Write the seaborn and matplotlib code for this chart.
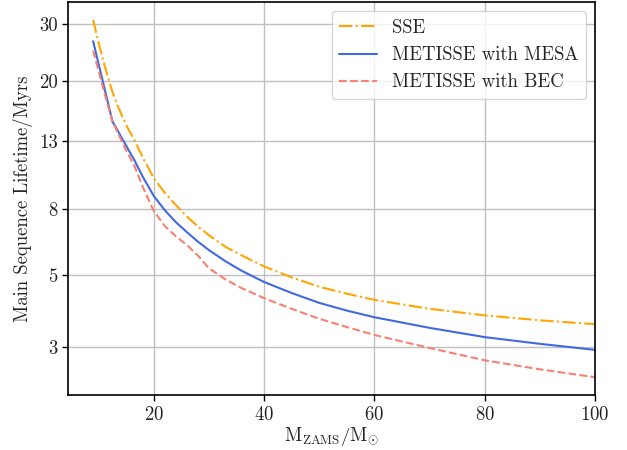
import matplotlib
matplotlib.use('Agg')
import matplotlib.pyplot as plt
import pandas as pd
import seaborn as sns
from matplotlib.ticker import FixedLocator, NullLocator, FixedFormatter

# masses (M_ZAMS / Msun)
mass = [9, 10, 11, 12.5, 13.5, 15, 16.5, 18, 20, 22, 24, 26, 28, 30, 33, 36, 40, 45, 50, 55, 60, 70, 80, 90, 100]

# main sequence lifetimes (Myrs)
sse = [31.0, 26.3, 22.6, 18.5, 16.7, 14.6, 13.1, 11.6, 10.0, 9.0, 8.25, 7.6, 7.08, 6.65, 6.12, 5.75,
       5.32, 4.92, 4.6, 4.38, 4.19, 3.93, 3.75, 3.62, 3.52]
metisse_mesa = [26.6, 22.6, 19.2, 15.0, 14.0, 12.6, 11.35, 10.1, 8.8, 7.95, 7.3, 6.8, 6.35, 5.98, 5.52, 5.15,
                4.76, 4.4, 4.1, 3.88, 3.70, 3.43, 3.21, 3.06, 2.93]
metisse_bec = [24.9, 21.5, 18.5, 15.0, 13.8, 12.2, 10.9, 9.4, 7.9, 7.1, 6.6, 6.2, 5.75, 5.25, 4.85, 4.55,
               4.24, 3.93, 3.66, 3.45, 3.26, 2.97, 2.72, 2.55, 2.41]

yticks = [3, 5, 8, 13, 20, 30]

sns.set_style('whitegrid')
plt.rcParams['font.family'] = 'serif'
plt.rcParams['font.serif'] = ['cmr10']
plt.rcParams['mathtext.fontset'] = 'cm'
plt.rcParams['axes.formatter.use_mathtext'] = True
plt.rcParams['axes.unicode_minus'] = False

tbl = pd.DataFrame({'mass': mass, 'sse': sse, 'mesa': metisse_mesa, 'bec': metisse_bec})

fig, ax = plt.subplots(figsize=(6.27, 4.5), dpi=100)
fig.subplots_adjust(left=0.1085, right=0.949, top=0.9956, bottom=0.122)

sns.lineplot(data=tbl, x='mass', y='sse', ax=ax, color='orange', linestyle='-.', lw=1.5, label='SSE')
sns.lineplot(data=tbl, x='mass', y='mesa', ax=ax, color='royalblue', linestyle='-', lw=1.5,
             label='METISSE with MESA')
sns.lineplot(data=tbl, x='mass', y='bec', ax=ax, color='salmon', linestyle='--', lw=1.5,
             label='METISSE with BEC')

ax.set_yscale('log')
ax.yaxis.set_major_locator(FixedLocator(yticks))
ax.yaxis.set_major_formatter(FixedFormatter([str(t) for t in yticks]))
ax.yaxis.set_minor_locator(NullLocator())
ax.set_xlim(4.45, 100)
ax.set_xticks([20, 40, 60, 80, 100])

ax.grid(True, color='#c0c0c0', lw=1.0)
for s in ax.spines.values():
    s.set_color('black')
    s.set_linewidth(1.2)
ax.tick_params(axis='both', which='major', labelsize=13.5, bottom=True, left=True,
               length=4, width=1, color='black', labelcolor='#222222')

ax.set_xlabel(r'$\mathrm{M_{ZAMS}/M_{\odot}}$', fontsize=13.5, labelpad=1)
ax.set_ylabel('Main Sequence Lifetime/Myrs', fontsize=13.5)

ax.legend(loc='upper right', fontsize=13.5, framealpha=0.8)

plt.savefig('out.png', dpi=100)
